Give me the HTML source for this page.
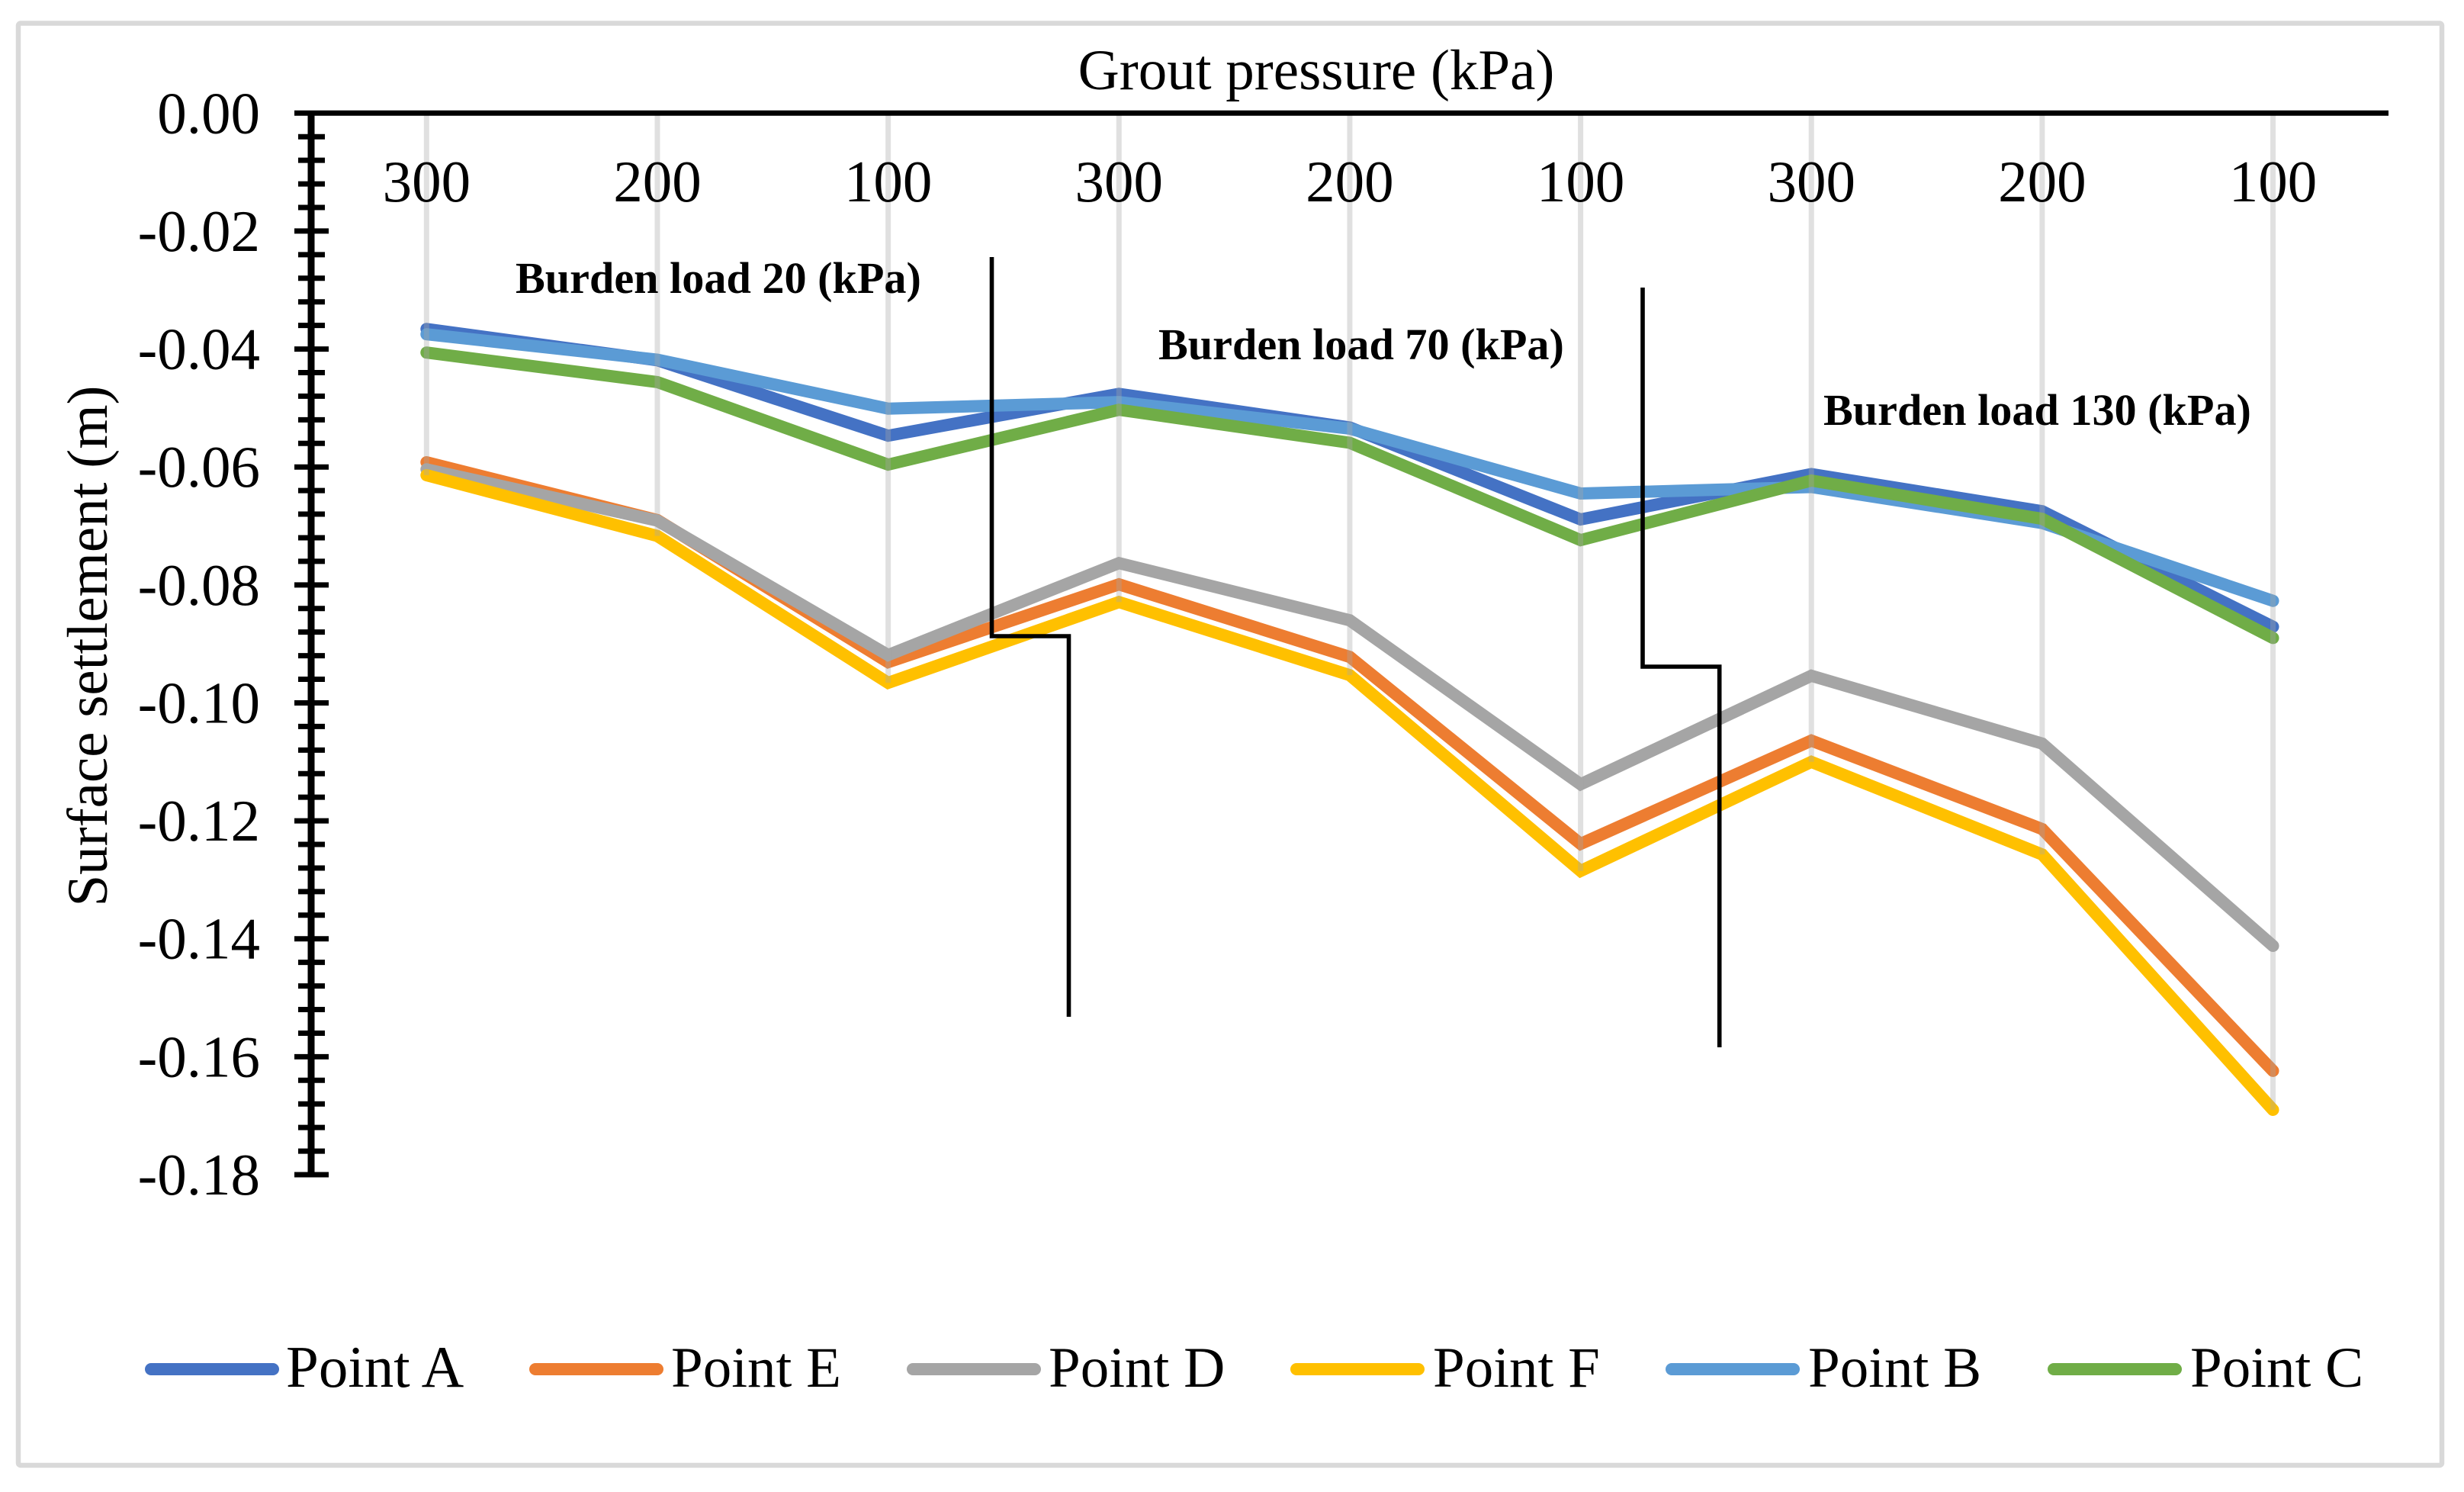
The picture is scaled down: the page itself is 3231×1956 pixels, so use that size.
<!DOCTYPE html>
<html lang="en">
<head>
<meta charset="utf-8">
<title>Surface settlement vs grout pressure</title>
<style>
html,body{margin:0;padding:0;background:#fff;}
svg{display:block;}
text{font-family:"Liberation Serif","Times New Roman",serif;fill:#000;}
</style>
</head>
<body>
<svg id="chart" xmlns="http://www.w3.org/2000/svg" width="3231" height="1956" viewBox="0 0 3231 1956">
  <rect x="0" y="0" width="3231" height="1956" fill="#fff"/>
  <rect x="24" y="30.5" width="3178" height="1890.5" rx="3" fill="#fff" stroke="#d9d9d9" stroke-width="6.5"/>
  <text x="1726" y="117" font-size="75" text-anchor="middle">Grout pressure (kPa)</text>
  <text transform="translate(140 847) rotate(-90)" font-size="75" text-anchor="middle">Surface settlement (m)</text>
  <g id="series-layer"></g>
  <g id="grid-layer"></g>
  <g id="axis-layer"></g>
  <text x="676" y="384" font-size="58.2" font-weight="bold">Burden load 20 (kPa)</text>
  <text x="1519" y="471" font-size="58.2" font-weight="bold">Burden load 70 (kPa)</text>
  <text x="2391" y="557" font-size="58.2" font-weight="bold">Burden load 130 (kPa)</text>
  <path d="M1300.5 337V834H1401.5V1333" fill="none" stroke="#000" stroke-width="5.6"/>
  <path d="M2154 377V874H2254.7V1373" fill="none" stroke="#000" stroke-width="5.6"/>
  <g id="legend-layer"></g>
</svg>
<script>
const categories = ["300", "200", "100", "300", "200", "100", "300", "200", "100"];
const yTickValues = [0, -0.02, -0.04, -0.06, -0.08, -0.10, -0.12, -0.14, -0.16, -0.18];
const yTickLabels = ["0.00", "-0.02", "-0.04", "-0.06", "-0.08", "-0.10", "-0.12", "-0.14", "-0.16", "-0.18"];
const yMinorStep = 0.004;

const pointA = [-0.0366, -0.0419, -0.0547, -0.0476, -0.0533, -0.0689, -0.0612, -0.0675, -0.0871];
const pointE = [-0.0592, -0.0690, -0.0931, -0.0799, -0.0922, -0.1239, -0.1064, -0.1214, -0.1624];
const pointD = [-0.0604, -0.0691, -0.0919, -0.0763, -0.0860, -0.1138, -0.0954, -0.1069, -0.1412];
const pointF = [-0.0614, -0.0717, -0.0966, -0.0829, -0.0953, -0.1285, -0.1100, -0.1257, -0.1690];
const pointB = [-0.0375, -0.0418, -0.0501, -0.0490, -0.0535, -0.0645, -0.0634, -0.0695, -0.0827];
const pointC = [-0.0406, -0.0456, -0.0596, -0.0503, -0.0559, -0.0724, -0.0623, -0.0688, -0.0890];

const seriesNames = ["Point A", "Point E", "Point D", "Point F", "Point B", "Point C"];
const seriesValues = [pointA, pointE, pointD, pointF, pointB, pointC];
const seriesColors = ["#4472C4", "#ED7D31", "#A5A5A5", "#FFC000", "#5B9BD5", "#70AD47"];

const NS = "http://www.w3.org/2000/svg";
const plotLeft = 408, plotTop = 148.3, plotBottom = 1540, plotRight = 3132, catStep = 302.65;
const yDomainMin = -0.18;

function yScale(v) {
  return plotTop + (v / yDomainMin) * (plotBottom - plotTop);
}
function xScale(i) {
  return plotLeft + catStep * (i + 0.5);
}
function make(tag, attrs, parent) {
  const el = document.createElementNS(NS, tag);
  for (const k in attrs) el.setAttribute(k, attrs[k]);
  parent.appendChild(el);
  return el;
}

const seriesLayer = document.getElementById("series-layer");
const gridLayer = document.getElementById("grid-layer");
const axisLayer = document.getElementById("axis-layer");
const legendLayer = document.getElementById("legend-layer");

// series lines
seriesValues.forEach(function (vals, s) {
  const d = vals.map(function (v, i) {
    return (i ? "L" : "M") + xScale(i).toFixed(1) + " " + yScale(v).toFixed(1);
  }).join(" ");
  const line = make("path", {d: d, fill: "none", stroke: seriesColors[s], "stroke-width": 16, "stroke-linecap": "round", "stroke-linejoin": "miter"}, seriesLayer);
  
  
  line.setAttribute('aria-label', seriesNames[s]);
});

// high-low lines run from zero to the lowest series at each category
categories.forEach(function (c, i) {
  const lowest = Math.min.apply(null, seriesValues.map(function (vals) { return vals[i]; }));
  const hl = make("line", {x1: xScale(i), x2: xScale(i), y1: yScale(0), y2: yScale(lowest), stroke: "rgb(166,166,166)", "stroke-opacity": 0.35, "stroke-width": 7}, gridLayer);
  
  
});

// axes
const topAxis = make("line", {x1: 386, x2: plotRight, y1: plotTop, y2: plotTop, stroke: "#000", "stroke-width": 7}, axisLayer);


const leftAxis = make("line", {x1: plotLeft, x2: plotLeft, y1: plotTop, y2: plotBottom, stroke: "#000", "stroke-width": 9}, axisLayer);



const minorCount = Math.round(-yDomainMin / yMinorStep);
for (let m = 1; m <= minorCount; m++) {
  const mv = -m * yMinorStep;
  if (m % 5 === 0) continue;
  const minor = make("line", {x1: 391, x2: 426, y1: yScale(mv), y2: yScale(mv), stroke: "#000", "stroke-width": 7}, axisLayer);
  
  
}
yTickValues.forEach(function (v, i) {
  if (i > 0) {
    const major = make("line", {x1: 386, x2: 431, y1: yScale(v), y2: yScale(v), stroke: "#000", "stroke-width": 7}, axisLayer);
    
    
  }
  const label = make("text", {x: 341, y: yScale(v) + 26, "font-size": 77, "text-anchor": "end"}, axisLayer);
  
  
  label.textContent = yTickLabels[i];
});
categories.forEach(function (c, i) {
  const label = make("text", {x: xScale(i), y: 264, "font-size": 77, "text-anchor": "middle"}, axisLayer);
  
  
  label.textContent = c;
});

// legend
const legendStarts = [198, 702, 1197, 1700, 2192, 2693];
const legendTextX = [375, 880, 1375, 1879, 2371, 2872];
const legendFontSizes = [77, 75, 75, 75, 75, 75];
seriesNames.forEach(function (name, s) {
  const key = make("line", {x1: legendStarts[s], x2: legendStarts[s] + 160, y1: 1795, y2: 1795, stroke: seriesColors[s], "stroke-width": 16, "stroke-linecap": "round"}, legendLayer);
  
  
  const txt = make("text", {x: legendTextX[s], y: 1818, "font-size": legendFontSizes[s]}, legendLayer);
  
  
  txt.textContent = name;
});
</script>
</body>
</html>
